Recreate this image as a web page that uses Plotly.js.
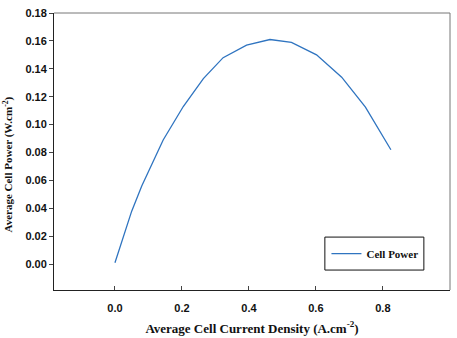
<!DOCTYPE html>
<html>
<head>
<meta charset="utf-8">
<script src="https://cdn.plot.ly/plotly-3.0.1.min.js"></script>
<style>html,body{margin:0;padding:0;background:#fff;}#chart{width:457px;height:338px;}</style>
</head>
<body>
<div id="chart"></div>
<script>
// Average cell current density (A.cm^-2)
const currentDensity = [0.0, 0.02, 0.05, 0.08, 0.11, 0.144, 0.204, 0.264, 0.323, 0.393, 0.463, 0.527, 0.602, 0.677, 0.748, 0.824];
// Average cell power (W.cm^-2)
const cellPower = [0.001, 0.016, 0.038, 0.056, 0.071, 0.089, 0.113, 0.133, 0.148, 0.157, 0.161, 0.159, 0.150, 0.134, 0.1125, 0.082];
const seriesName = 'Cell Power';
const xTitle = 'Average Cell Current Density (A.cm<sup>-2</sup>)';
const yTitle = 'Average Cell Power (W.cm<sup>-2</sup>)';

const serif = 'Liberation Serif, Times New Roman, serif';
const sans = 'Liberation Sans, Arial, sans-serif';

const trace = {
  x: currentDensity,
  y: cellPower,
  type: 'scatter',
  mode: 'lines',
  name: seriesName,
  line: {color: '#2f74c0', width: 1.3}
};

// legend frame, in paper units of the plot area
const box = {x0: 0.684, x1: 0.934, y0: 0.072, y1: 0.191};

const layout = {
  width: 457,
  height: 338,
  margin: {l: 54, r: 7, t: 13, b: 48},
  paper_bgcolor: '#fff',
  plot_bgcolor: '#fff',
  showlegend: true,
  legend: {
    x: box.x0 + 0.004, y: (box.y0 + box.y1) / 2, xanchor: 'left', yanchor: 'middle',
    borderwidth: 0, bgcolor: 'rgba(0,0,0,0)',
    font: {family: serif, size: 11, color: '#111', weight: 700},
    itemwidth: 30
  },
  xaxis: {
    range: [-0.182, 1.0005],
    tickvals: [0, 0.2, 0.4, 0.6, 0.8, 1.0],
    tickformat: '.1f',
    ticks: 'inside', ticklen: 4, tickcolor: '#444',
    ticklabelstandoff: 8,
    showline: true, linecolor: '#222', linewidth: 1,
    showgrid: false, zeroline: false,
    tickfont: {family: sans, size: 11, color: '#111', weight: 700},
    title: {text: xTitle, standoff: 10, font: {family: serif, size: 13, color: '#111', weight: 700}}
  },
  yaxis: {
    range: [-0.0185, 0.18],
    tickvals: [0, 0.02, 0.04, 0.06, 0.08, 0.10, 0.12, 0.14, 0.16, 0.18],
    tickformat: '.2f',
    ticks: 'outside', ticklen: 4, tickcolor: '#444',
    showline: true, linecolor: '#222', linewidth: 1,
    showgrid: false, zeroline: false,
    tickfont: {family: sans, size: 11, color: '#111', weight: 700}
  },
  annotations: [
    {text: yTitle, xref: 'paper', yref: 'paper', x: 0, y: 0.5, xanchor: 'center', yanchor: 'middle',
     xshift: -46, yshift: -13, textangle: -90, showarrow: false,
     font: {family: serif, size: 11, color: '#111', weight: 700}}
  ],
  shapes: [
    {type: 'line', xref: 'paper', yref: 'paper', x0: 0, x1: 1, y0: 1, y1: 1, line: {color: '#777', width: 1}},
    {type: 'line', xref: 'paper', yref: 'paper', x0: 1, x1: 1, y0: 0, y1: 1, line: {color: '#777', width: 1}},
    {type: 'rect', xref: 'paper', yref: 'paper', x0: box.x0, x1: box.x1, y0: box.y0, y1: box.y1,
     line: {color: '#111', width: 1}, fillcolor: 'rgba(0,0,0,0)'}
  ]
};

Plotly.newPlot('chart', [trace], layout, {displayModeBar: false, staticPlot: true});
</script>
</body>
</html>
